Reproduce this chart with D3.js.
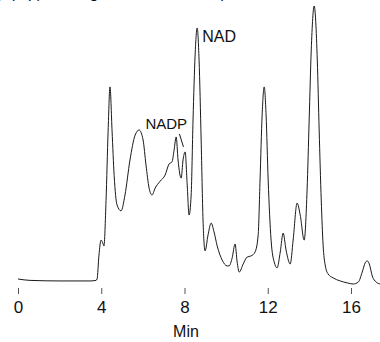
<!DOCTYPE html>
<html>
<head>
<meta charset="utf-8">
<script src="https://cdn.jsdelivr.net/npm/d3@7"></script>
<style>
  body { margin: 0; background: #fff; }
  text { font-family: "Liberation Sans", Arial, sans-serif; fill: #111; }
</style>
</head>
<body>
<svg id="chart" width="380" height="342"></svg>
<script>
// retention time (min) and detector signal (relative units)
const times = [0, 0.58, 2.02, 3.46, 3.75, 3.80, 3.89, 3.99, 4.09, 4.13, 4.23, 4.33, 4.42, 4.52, 4.62, 4.76, 4.95,
  5.14, 5.38, 5.63, 5.82, 6.01, 6.15, 6.30, 6.44, 6.59, 6.83, 7.07, 7.26, 7.40, 7.50, 7.60, 7.69, 7.84, 7.93,
  8.03, 8.13, 8.22, 8.32, 8.41, 8.51, 8.61, 8.70, 8.80, 8.89, 8.99, 9.13, 9.28, 9.42, 9.57, 9.81, 10.05, 10.14,
  10.29, 10.43, 10.53, 10.63, 10.82, 11.01, 11.20, 11.39, 11.54, 11.63, 11.73, 11.83, 11.92, 12.02, 12.16, 12.31,
  12.45, 12.60, 12.74, 12.88, 13.08, 13.22, 13.41, 13.56, 13.75, 13.89, 13.99, 14.09, 14.23, 14.38, 14.47, 14.57,
  14.66, 14.76, 14.90, 15.14, 15.48, 15.82, 16.11, 16.35, 16.54, 16.68, 16.78, 16.88, 17.02, 17.21, 17.40];
const signal = [1.8, 1.3, 1.1, 1.1, 1.3, 1.8, 10.4, 15.8, 14.4, 13.7, 30, 55, 70.9, 55, 39, 28.4, 26.3,
  32, 44.6, 53.6, 55.4, 51.8, 42.8, 34.5, 32, 34.5, 37, 39.2, 43.2, 43.9, 48.2, 52.9, 44.6, 38.1, 44.6,
  47.5, 35.6, 24.8, 32, 59, 82.4, 92.1, 80.6, 51.8, 23, 11.9, 17.6, 21.9, 18.7, 13.7, 8.6, 6.5, 6.5,
  9.4, 14.4, 7.9, 4.3, 7.2, 9.7, 10.1, 11.5, 17.6, 37.4, 60.8, 70.9, 60.8, 37.4, 15.8, 7.9,
  5.8, 11.5, 18.3, 12.2, 7.2, 15.8, 29.1, 24.8, 15.8, 33.8, 59, 84.2, 100, 80.6, 55.4, 30.2,
  14, 6.8, 3.6, 2.2, 1.1, 0.4, 0, 0.7, 4.3, 7.6, 8.3, 7.2, 2.9, 0.7, 0];
const tickMinutes = [0, 4, 8, 12, 16];
const peakLabels = ["NADP", "NAD"];
const peakTimes = [7.95, 8.61];
const peakHeights = [47.5, 92.1];

const svg = d3.select("#chart");

const x = d3.scaleLinear().domain([0, 16]).range([18, 351]);
const y = d3.scaleLinear().domain([0, 100]).range([284, 6]);

// clipped caption from the page above the figure
svg.append("text")
  .attr("x", -3).attr("y", -2)
  .style("font-size", "16px")
  .text("y         (top),      s   o    ing             a   ation  of   NAD               ep");

const pts = times.map((t, i) => [t, signal[i]]);
const line = d3.line()
  .x(d => x(d[0]))
  .y(d => y(d[1]))
  .curve(d3.curveMonotoneX);

svg.append("path")
  .datum(pts)
  .attr("fill", "none")
  .attr("stroke", "#1a1a1a")
  .attr("stroke-width", 1)
  .attr("d", line);

const axis = d3.axisBottom(x)
  .tickValues(tickMinutes)
  .tickSize(6)
  .tickPadding(7)
  .tickFormat(d3.format("d"));

const gx = svg.append("g")
  .attr("transform", "translate(0,288)")
  .call(axis);
gx.select(".domain").remove();
gx.selectAll(".tick line").attr("stroke", "#555");
gx.selectAll(".tick text")
  .style("font-family", "'Liberation Sans', Arial, sans-serif")
  .style("font-size", "17px")
  .attr("fill", "#111");

svg.append("text")
  .attr("x", 186).attr("y", 337)
  .attr("text-anchor", "middle")
  .style("font-size", "16px")
  .text("Min");

// peak annotations
svg.append("text")
  .attr("x", x(peakTimes[1]) + 5).attr("y", y(peakHeights[1]) + 14)
  .style("font-size", "16px")
  .text(peakLabels[1]);

svg.append("text")
  .attr("x", x(peakTimes[0]) - 38).attr("y", y(peakHeights[0]) - 23)
  .style("font-size", "15px")
  .text(peakLabels[0]);

svg.append("line")
  .attr("x1", x(peakTimes[0]) - 4).attr("y1", y(peakHeights[0]) - 18)
  .attr("x2", x(peakTimes[0])).attr("y2", y(peakHeights[0]) - 5)
  .attr("stroke", "#1a1a1a")
  .attr("stroke-width", 1);
</script>
</body>
</html>
